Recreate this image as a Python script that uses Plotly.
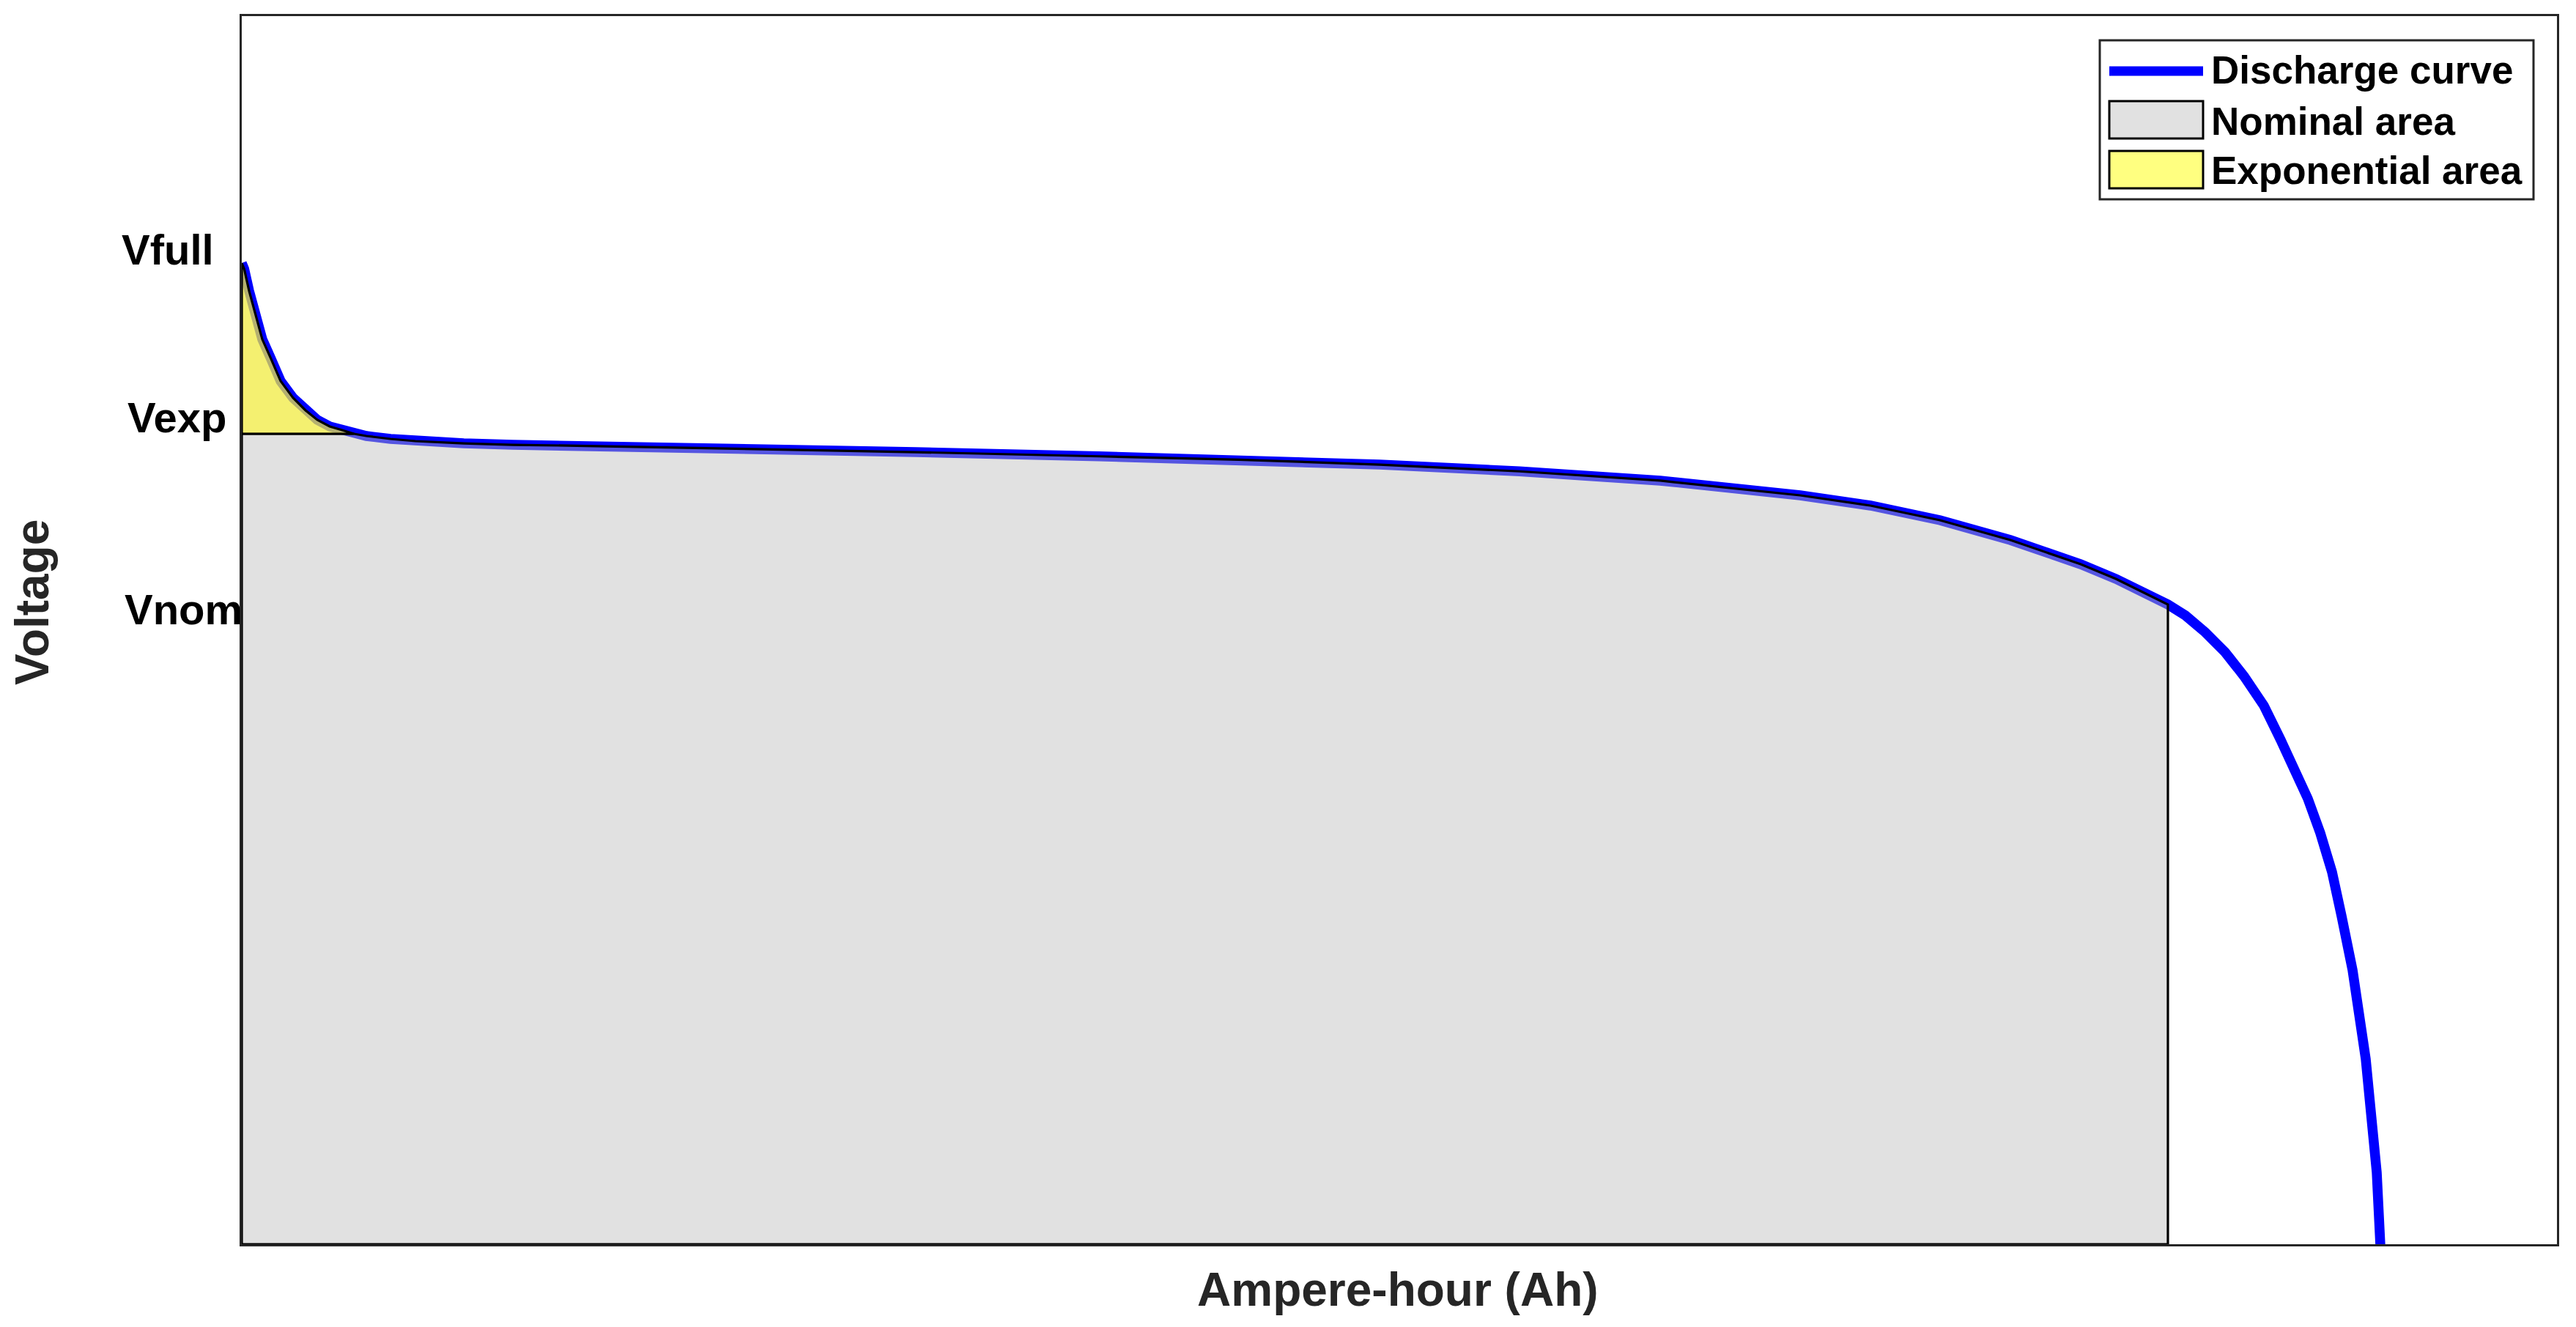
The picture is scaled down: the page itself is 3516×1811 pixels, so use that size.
import plotly.graph_objects as go
import numpy as np

# ---------------- data ----------------
ampere_hour = [0.0000, 0.0073, 0.0222, 0.0443, 0.0620, 0.0886, 0.1174, 0.1551,
               0.1927, 0.2282, 0.2658, 0.3035, 0.3389, 0.3766, 0.4497, 0.5250,
               0.6712, 0.8196, 1.0411, 1.4842, 2.0380, 2.5918, 3.0149, 3.4402,
               3.8633, 4.2886, 4.7117, 4.9244, 5.1348, 5.3475, 5.5601, 5.6665,
               5.8237, 5.8769, 5.9367, 5.9965, 6.0541, 6.1139, 6.1649, 6.2092,
               6.2468, 6.2845, 6.3199, 6.3487, 6.3820, 6.4218, 6.4418, 6.4551,
               6.4673]
voltage = [4.2000, 4.1931, 4.1674, 4.1365, 4.1107, 4.0876, 4.0618, 4.0421,
           4.0275, 4.0163, 4.0086, 4.0043, 4.0000, 3.9974, 3.9940, 3.9914,
           3.9888, 3.9871, 3.9858, 3.9828, 3.9785, 3.9736, 3.9697, 3.9639,
           3.9560, 3.9451, 3.9279, 3.9159, 3.8987, 3.8755, 3.8472, 3.8300,
           3.8000, 3.7871, 3.7674, 3.7442, 3.7159, 3.6815, 3.6412, 3.6069,
           3.5725, 3.5322, 3.4867, 3.4352, 3.3717, 3.2678, 3.1991, 3.1348,
           3.0400]

V_FULL = 4.20
V_EXP = 4.00
V_NOM = 3.80
AH_EXP = 0.3389      # capacity where curve reaches Vexp
AH_NOM = 5.8237      # capacity where curve reaches Vnom

tick_labels = ["Vfull", "Vexp", "Vnom"]
legend_labels = ["Discharge curve", "Nominal area", "Exponential area"]
x_title = "Ampere-hour (Ah)"
y_title = "Voltage"

X_RANGE = [0, 7.0]
Y_RANGE = [3.0506, 4.4893]

# ---------------- layout geometry ----------------
W, H = 3516, 1811
L, R, T, B = 330, 3490, 22, 1698
FONT = "Liberation Sans, Arial, Helvetica, sans-serif"


def px2x(px):
    return (px - L) / (R - L)


def py2y(py):
    return (B - py) / (B - T)


ah = np.array(ampere_hour)
v = np.array(voltage)

fig = go.Figure()

# discharge curve (drawn first; the patches sit on top of it)
fig.add_trace(go.Scatter(x=ah, y=v, mode="lines",
                         line=dict(color="#0000ff", width=13.5),
                         name=legend_labels[0], hoverinfo="skip"))

# nominal area
m_nom = (ah >= AH_EXP) & (ah <= AH_NOM)
gx = [0, 0] + list(ah[m_nom]) + [AH_NOM, 0]
gy = [Y_RANGE[0], V_EXP] + list(v[m_nom]) + [Y_RANGE[0], Y_RANGE[0]]
fig.add_trace(go.Scatter(x=gx, y=gy, mode="lines", fill="toself",
                         fillcolor="rgba(189,189,189,0.45)",
                         line=dict(color="#000000", width=3.2),
                         name=legend_labels[1], hoverinfo="skip"))

# exponential area
m_exp = ah <= AH_EXP
yx = list(ah[m_exp]) + [0, 0]
yy = list(v[m_exp]) + [V_EXP, v[0]]
fig.add_trace(go.Scatter(x=yx, y=yy, mode="lines", fill="toself",
                         fillcolor="rgba(240,235,64,0.75)",
                         line=dict(color="#000000", width=3.2),
                         name=legend_labels[2], hoverinfo="skip"))

annotations = []
shapes = []

# y "tick" labels
tick_px = [(164, 340), (172, 569), (168, 831)]
for lab, (lx, ly) in zip(tick_labels, tick_px):
    annotations.append(dict(text="<b>" + lab + "</b>", xref="paper", yref="paper",
                            x=px2x(lx), y=py2y(ly), xanchor="left", yanchor="middle",
                            showarrow=False,
                            font=dict(family=FONT, size=58, color="#000000")))

# axis titles
annotations.append(dict(text="<b>" + x_title + "</b>", xref="paper", yref="paper",
                        x=px2x(1908), y=py2y(1760), xanchor="center", yanchor="middle",
                        showarrow=False,
                        font=dict(family=FONT, size=64, color="#262626")))
annotations.append(dict(text="<b>" + y_title + "</b>", xref="paper", yref="paper",
                        x=px2x(44), y=py2y(822), xanchor="center", yanchor="middle",
                        textangle=-90, showarrow=False,
                        font=dict(family=FONT, size=64, color="#262626")))

# legend (box, samples, labels)
shapes.append(dict(type="rect", xref="paper", yref="paper",
                   x0=px2x(2866), x1=px2x(3458), y0=py2y(55), y1=py2y(272),
                   line=dict(color="#262626", width=3), fillcolor="white", layer="above"))
shapes.append(dict(type="line", xref="paper", yref="paper",
                   x0=px2x(2879), x1=px2x(3007), y0=py2y(97), y1=py2y(97),
                   line=dict(color="#0000ff", width=13), layer="above"))
shapes.append(dict(type="rect", xref="paper", yref="paper",
                   x0=px2x(2879), x1=px2x(3007), y0=py2y(138), y1=py2y(189),
                   line=dict(color="#000000", width=3), fillcolor="#e1e1e1", layer="above"))
shapes.append(dict(type="rect", xref="paper", yref="paper",
                   x0=px2x(2879), x1=px2x(3007), y0=py2y(206), y1=py2y(257),
                   line=dict(color="#000000", width=3), fillcolor="#ffff80", layer="above"))
for lab, ly in zip(legend_labels, [96, 165, 233]):
    annotations.append(dict(text="<b>" + lab + "</b>", xref="paper", yref="paper",
                            x=px2x(3016), y=py2y(ly), xanchor="left", yanchor="middle",
                            showarrow=False,
                            font=dict(family=FONT, size=53, color="#000000")))

axis_common = dict(showline=True, mirror=True, linecolor="#262626", linewidth=3,
                   showticklabels=False, showgrid=False, zeroline=False, ticks="")

fig.update_layout(
    width=W, height=H,
    margin=dict(l=L, r=W - R, t=T, b=H - B, pad=0),
    plot_bgcolor="white", paper_bgcolor="white",
    showlegend=False,
    xaxis=dict(range=X_RANGE, **axis_common),
    yaxis=dict(range=Y_RANGE, **axis_common),
    annotations=annotations,
    shapes=shapes,
    font=dict(family=FONT),
)

fig.write_html("out.html",
               config={"displayModeBar": False},
               post_script="document.body.style.margin='0';document.body.style.overflow='hidden';")
